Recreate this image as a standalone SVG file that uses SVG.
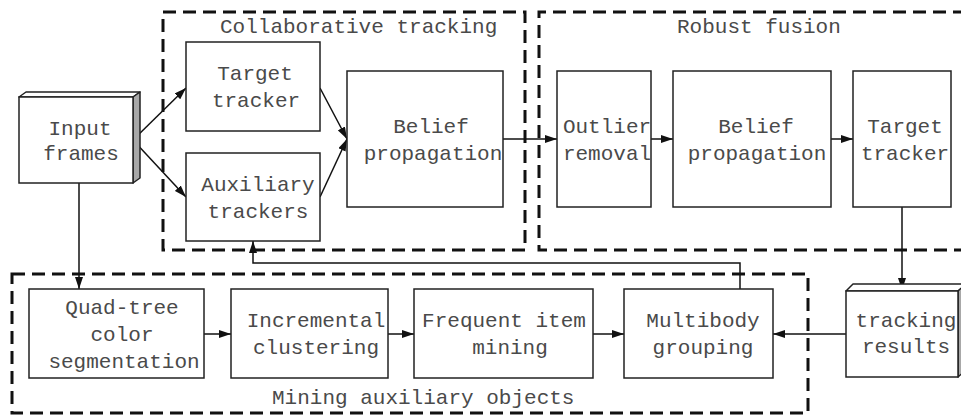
<svg xmlns="http://www.w3.org/2000/svg" width="961" height="418" viewBox="0 0 961 418">
<style>
.box{fill:#fff;stroke:#222;stroke-width:1.5}
.grp{fill:none;stroke:#111;stroke-width:3;stroke-dasharray:13 7}
.side{fill:#a8a8a8;stroke:#222;stroke-width:1.5;stroke-linejoin:round}
.top{fill:#fff;stroke:#222;stroke-width:1.5;stroke-linejoin:round}
text{font-family:"Liberation Mono","Courier New",monospace;font-size:21px;fill:#4a4a4a;text-anchor:middle}
.lbl{text-anchor:start}
.c{fill:none;stroke:#111;stroke-width:1.5}
</style>
<defs>
<marker id="ah" markerUnits="userSpaceOnUse" markerWidth="12" markerHeight="8" refX="12" refY="4" orient="auto">
<path d="M0,0 L12,4 L0,8 z" fill="#111"/>
</marker>
</defs>
<rect fill="#fff" width="961" height="418"/>
<g id="group-collaborative">
<rect class="grp" x="163" y="12" width="362" height="238"/>
<text class="lbl" x="220" y="33">Collaborative tracking</text>
</g>
<g id="group-robust">
<path class="grp" d="M966,12 H539 V250 H966"/>
<text class="lbl" x="677" y="33">Robust fusion</text>
</g>
<g id="group-mining">
<rect class="grp" x="12" y="274" width="796" height="139"/>
<text class="lbl" x="272" y="404">Mining auxiliary objects</text>
</g>
<g id="connectors">
<path class="c" d="M133,140 L186,88" marker-end="url(#ah)"/>
<path class="c" d="M133,140 L186,197" marker-end="url(#ah)"/>
<path class="c" d="M320,88 L347,139" marker-end="url(#ah)"/>
<path class="c" d="M320,197 L347,139" marker-end="url(#ah)"/>
<path class="c" d="M503,139 H557" marker-end="url(#ah)"/>
<path class="c" d="M651,139 H673" marker-end="url(#ah)"/>
<path class="c" d="M831,139 H853" marker-end="url(#ah)"/>
<path class="c" d="M902,207 V290" marker-end="url(#ah)"/>
<path class="c" d="M846,334 H773" marker-end="url(#ah)"/>
<path class="c" d="M740,289 V263 H253 V241" marker-end="url(#ah)"/>
<path class="c" d="M79,183 V289" marker-end="url(#ah)"/>
<path class="c" d="M204,334 H231" marker-end="url(#ah)"/>
<path class="c" d="M388,334 H414" marker-end="url(#ah)"/>
<path class="c" d="M593,334 H624" marker-end="url(#ah)"/>
</g>
<g id="input-frames">
<path class="top" d="M19,97 L26,92 H140 L133,97 Z"/>
<path class="side" d="M133,97 L140,92 V178 L133,183 Z"/>
<rect class="box" x="19" y="97" width="114" height="86"/>
<text x="80" y="135">Input</text>
<text x="81" y="160">frames</text>
</g>
<g id="target-tracker">
<rect class="box" x="186" y="42" width="134" height="89"/>
<text x="255" y="80">Target</text>
<text x="256" y="107">tracker</text>
</g>
<g id="auxiliary-trackers">
<rect class="box" x="186" y="153" width="134" height="88"/>
<text x="258" y="191">Auxiliary</text>
<text x="258" y="218">trackers</text>
</g>
<g id="belief-propagation-1">
<rect class="box" x="347" y="71" width="156" height="136"/>
<text x="431" y="133">Belief</text>
<text x="433" y="160">propagation</text>
</g>
<g id="outlier-removal">
<rect class="box" x="557" y="71" width="94" height="136"/>
<text x="607" y="133">Outlier</text>
<text x="607" y="160">removal</text>
</g>
<g id="belief-propagation-2">
<rect class="box" x="673" y="71" width="158" height="136"/>
<text x="756" y="133">Belief</text>
<text x="757" y="160">propagation</text>
</g>
<g id="target-tracker-2">
<rect class="box" x="853" y="71" width="98" height="136"/>
<text x="905" y="133">Target</text>
<text x="905" y="160">tracker</text>
</g>
<g id="tracking-results">
<path class="top" d="M846,291 L853,284 H966 L958,291 Z"/>
<path class="side" d="M958,291 L966,284 V370 L958,377 Z"/>
<rect class="box" x="846" y="291" width="112" height="86"/>
<text x="906" y="327">tracking</text>
<text x="906" y="353">results</text>
</g>
<g id="quad-tree">
<rect class="box" x="29" y="289" width="175" height="89"/>
<text x="122" y="314">Quad-tree</text>
<text x="122" y="341">color</text>
<text x="124" y="368">segmentation</text>
</g>
<g id="incremental-clustering">
<rect class="box" x="231" y="289" width="157" height="89"/>
<text x="316" y="327">Incremental</text>
<text x="316" y="354">clustering</text>
</g>
<g id="frequent-item-mining">
<rect class="box" x="414" y="289" width="179" height="89"/>
<text x="504" y="327">Frequent item</text>
<text x="510" y="354">mining</text>
</g>
<g id="multibody-grouping">
<rect class="box" x="624" y="289" width="149" height="89"/>
<text x="703" y="327">Multibody</text>
<text x="703" y="354">grouping</text>
</g>
</svg>
